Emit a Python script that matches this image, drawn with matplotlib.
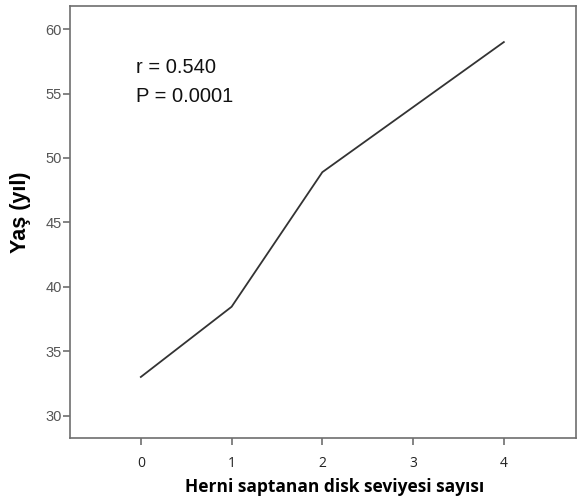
import matplotlib
matplotlib.use("Agg")
import matplotlib.pyplot as plt

# data
disk_levels = [0, 1, 2, 3, 4]
age_mean = [33.0, 38.45, 48.9, 53.95, 59.0]
x_ticks = [0, 1, 2, 3, 4]
y_ticks = [30, 35, 40, 45, 50, 55, 60]
stats_lines = ["r = 0.540", "P = 0.0001"]

fig = plt.figure(figsize=(5.79, 5.0), dpi=100)
ax = fig.add_axes([0.121, 0.125, 0.873, 0.863])

ax.plot(disk_levels, age_mean, color="#333333", linewidth=1.3)

ax.set_xlim(-0.78, 4.79)
ax.set_ylim(28.3, 61.8)
ax.set_xticks(x_ticks)
ax.set_yticks(y_ticks)

for s in ax.spines.values():
    s.set_color("#6e6e6e")
    s.set_linewidth(1.2)

ax.tick_params(axis="y", direction="out", length=5, width=1.2, color="#6e6e6e",
               labelsize=10.5, labelcolor="#555555", pad=1)
ax.tick_params(axis="x", direction="out", length=5, width=1.2, color="#6e6e6e",
               labelsize=10, labelcolor="#222222", pad=8)
for lbl in ax.get_yticklabels():
    lbl.set_family("Liberation Sans")
for lbl in ax.get_xticklabels():
    lbl.set_family("Open Sans")

ax.set_xlabel("Herni saptanan disk seviyesi sayısı", family="Open Sans",
              fontweight="bold", fontsize=12.5)
ax.xaxis.set_label_coords(0.524, -0.093)
ax.set_ylabel("Yaş (yıl)", family="Liberation Sans", fontweight="bold",
              fontsize=15.5)
ax.yaxis.set_label_coords(-0.077, 0.523)

ax.text(-0.05, 57.0, stats_lines[0], family="Liberation Sans",
        fontsize=14.5, color="#111111", va="center", ha="left")
ax.text(-0.05, 54.75, stats_lines[1], family="Liberation Sans",
        fontsize=14.5, color="#111111", va="center", ha="left")

fig.savefig("out.png", dpi=100)
